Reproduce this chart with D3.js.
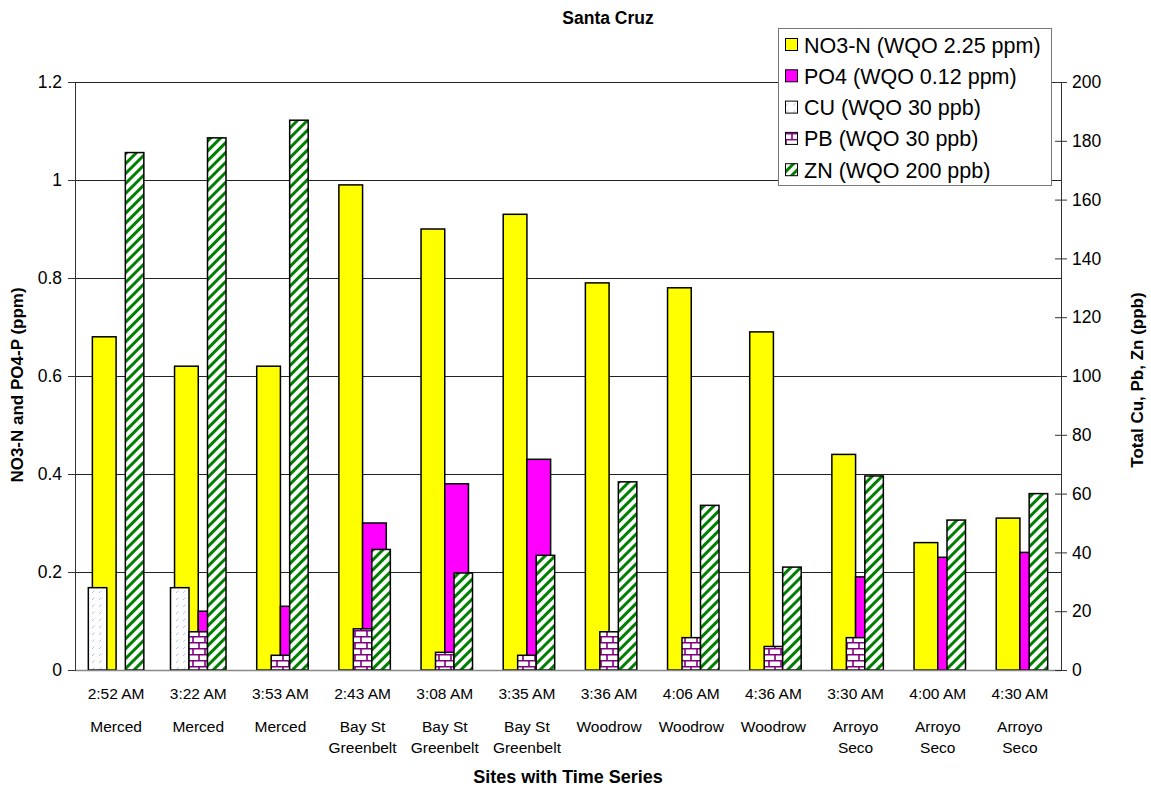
<!DOCTYPE html>
<html><head><meta charset="utf-8">
<script src="https://cdn.jsdelivr.net/npm/d3@7"></script>
<style>body{margin:0;background:#fff} text{font-family:"Liberation Sans",Arial,sans-serif;fill:#000}</style>
</head><body><svg id="c" width="1151" height="789"></svg>
<script>
const times = ["2:52 AM","3:22 AM","3:53 AM","2:43 AM","3:08 AM","3:35 AM","3:36 AM","4:06 AM","4:36 AM","3:30 AM","4:00 AM","4:30 AM"];
const sites = [["Merced"],["Merced"],["Merced"],["Bay St","Greenbelt"],["Bay St","Greenbelt"],["Bay St","Greenbelt"],["Woodrow"],["Woodrow"],["Woodrow"],["Arroyo","Seco"],["Arroyo","Seco"],["Arroyo","Seco"]];
const no3 = [0.68,0.62,0.62,0.99,0.90,0.93,0.79,0.78,0.69,0.44,0.26,0.31];
const po4 = [0,0.12,0.13,0.30,0.38,0.43,0,0,0,0.19,0.23,0.24];
const cu  = [28,28,0,0,0,0,0,0,0,0,0,0];
const pb  = [0,13,5,14,6,5,13,11,8,11,0,0];
const zn  = [176,181,187,41,33,39,64,56,35,66,51,60];
const leftTicks = [0,0.2,0.4,0.6,0.8,1,1.2];
const rightTicks = [0,20,40,60,80,100,120,140,160,180,200];
const primaryNames = ["NO3-N (WQO 2.25 ppm)","PO4 (WQO 0.12 ppm)"];
const secondaryNames = ["CU (WQO 30 ppb)","PB (WQO 30 ppb)","ZN (WQO 200 ppb)"];

const svg = d3.select("#c");
const L = 75, R = 1061, T = 82, B = 670;

// patterns
const defs = svg.append("defs");
const pc = defs.append("pattern").attr("id","pCU").attr("patternUnits","userSpaceOnUse").attr("width",7).attr("height",7);
pc.append("rect").attr("width",7).attr("height",7).attr("fill","#fff");
pc.append("line").attr("x1",1).attr("y1",5).attr("x2",3.5).attr("y2",2.5).attr("stroke","#b4bcff").attr("stroke-width",1);
const pp = defs.append("pattern").attr("id","pPB").attr("patternUnits","userSpaceOnUse").attr("width",12).attr("height",12);
pp.append("rect").attr("width",12).attr("height",12).attr("fill","#fff");
pp.append("path").attr("d","M0,0.75H12M0,6.75H12M1,0V6.75M7,6.75V12").attr("stroke","#800080").attr("stroke-width",1.6).attr("fill","none");
const pz = defs.append("pattern").attr("id","pZN").attr("patternUnits","userSpaceOnUse").attr("width",7).attr("height",7).attr("patternTransform","rotate(45)");
pz.append("rect").attr("width",7).attr("height",7).attr("fill","#fff");
pz.append("rect").attr("width",3).attr("height",7).attr("fill","#008000");

const primaryFills = ["#ffff00","#ff00ff"];
const secondaryFills = ["url(#pCU)","url(#pPB)","url(#pZN)"];

const x0 = d3.scaleBand().domain(times).range([L,R]).padding(0);
const bw = x0.bandwidth();
const xP = d3.scaleBand().domain([0,1]).range([0,bw]).paddingInner(0).paddingOuter(0.733);
const xS = d3.scaleBand().domain([0,1,2]).range([0,bw]).paddingInner(0).paddingOuter(0.72);
const yL = d3.scaleLinear().domain([0,1.2]).range([B,T]);
const yR = d3.scaleLinear().domain([0,200]).range([B,T]);

// gridlines
svg.append("g").selectAll("line").data(leftTicks.slice(1)).join("line")
  .attr("x1",L).attr("x2",R).attr("y1",d=>Math.round(yL(d))+0.5).attr("y2",d=>Math.round(yL(d))+0.5)
  .attr("stroke","#222").attr("stroke-width",1);

// primary bars
const prim = [no3, po4];
prim.forEach((arr,si)=>{
  svg.append("g").selectAll("rect").data(arr.map((v,i)=>({v,i}))).join("rect")
    .filter(d=>d.v>0)
    .attr("x",d=>x0(times[d.i])+xP(si)).attr("width",xP.bandwidth())
    .attr("y",d=>yL(d.v)).attr("height",d=>B-yL(d.v))
    .attr("fill",primaryFills[si]).attr("stroke","#000").attr("stroke-width",1.5);
});
// secondary bars
const sec = [cu, pb, zn];
sec.forEach((arr,si)=>{
  svg.append("g").selectAll("rect").data(arr.map((v,i)=>({v,i}))).join("rect")
    .filter(d=>d.v>0)
    .attr("x",d=>x0(times[d.i])+xS(si)).attr("width",xS.bandwidth())
    .attr("y",d=>yR(d.v)).attr("height",d=>B-yR(d.v))
    .attr("fill",secondaryFills[si]).attr("stroke","#000").attr("stroke-width",1.5);
});

// baseline
svg.append("line").attr("x1",L).attr("x2",R).attr("y1",B+0.5).attr("y2",B+0.5).attr("stroke","#888").attr("stroke-width",1.5);

// left axis
const ga = svg.append("g").attr("transform",`translate(${L},0)`)
  .call(d3.axisLeft(yL).tickValues(leftTicks).tickFormat(d=>String(d)).tickSize(7).tickPadding(6));
ga.select(".domain").attr("stroke","#333");
ga.selectAll(".tick line").attr("stroke","#333");
ga.selectAll("text").attr("font-size",17.5).attr("font-family","Liberation Sans, Arial, sans-serif");

// right axis
const gr = svg.append("g").attr("transform",`translate(${R},0)`)
  .call(d3.axisRight(yR).tickValues(rightTicks).tickSize(6).tickPadding(5));
gr.select(".domain").attr("stroke","#333");
gr.selectAll(".tick line").attr("stroke","#333").attr("x1",-6);
gr.selectAll("text").attr("font-size",17.5).attr("font-family","Liberation Sans, Arial, sans-serif");

// category labels
const cl = svg.append("g").selectAll("g").data(times).join("g")
  .attr("transform",d=>`translate(${x0(d)+bw/2},0)`);
cl.append("text").attr("y",699).attr("text-anchor","middle").attr("font-size",15.5).text(d=>d);
cl.each(function(d,i){
  const g = d3.select(this);
  sites[i].forEach((s,k)=>g.append("text").attr("y",732+k*21).attr("text-anchor","middle").attr("font-size",15.5).text(s));
});

// titles
svg.append("text").attr("x",608).attr("y",24).attr("text-anchor","middle").attr("font-size",17.5).attr("font-weight","bold").text("Santa Cruz");
svg.append("text").attr("x",568).attr("y",783).attr("text-anchor","middle").attr("font-size",18).attr("font-weight","bold").text("Sites with Time Series");
svg.append("text").attr("transform","translate(23,385) rotate(-90)").attr("text-anchor","middle").attr("font-size",17).attr("font-weight","bold").text("NO3-N and PO4-P (ppm)");
svg.append("text").attr("transform","translate(1143,380) rotate(-90)").attr("text-anchor","middle").attr("font-size",17).attr("font-weight","bold").text("Total Cu, Pb, Zn (ppb)");

// legend
const lg = svg.append("g");
lg.append("rect").attr("x",778.5).attr("y",28.5).attr("width",273).attr("height",157).attr("fill","#fff").attr("stroke","#777").attr("stroke-width",1);
const legItems = primaryNames.map((n,i)=>({n,f:primaryFills[i]})).concat(secondaryNames.map((n,i)=>({n,f:secondaryFills[i]})));
const li = lg.selectAll("g").data(legItems).join("g").attr("transform",(d,i)=>`translate(785,${45+i*31.3})`);
li.append("rect").attr("x",0.5).attr("y",-6.5).attr("width",12).attr("height",12).attr("fill",d=>d.f).attr("stroke","#000").attr("stroke-width",1);
li.append("text").attr("x",19).attr("y",7.5).attr("font-size",21.5).text(d=>d.n);
</script></body></html>
